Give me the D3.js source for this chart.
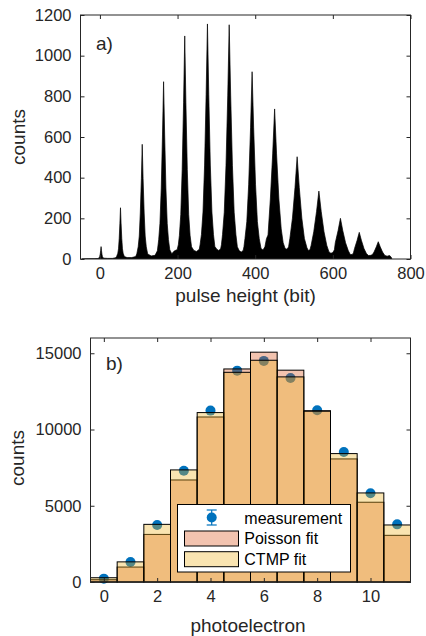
<!DOCTYPE html>
<html>
<head>
<meta charset="utf-8">
<script src="https://cdn.jsdelivr.net/npm/d3@7"></script>
<style>
body { margin: 0; background: #fff; }
svg { font-family: "Liberation Sans", Arial, sans-serif; }
</style>
</head>
<body>
<svg width="426" height="636"></svg>
<script>
// a) pulse height spectrum, outline: [pulse height (bit), counts]
var pulseOutline = [
  [-46,0],[-30,1],[-15,1],[-6,2],[-3,4],
  [-1.6,8],[-0.4,12],[0.8,24],[2,43],[3,61],[4,43],[5.2,24],[6.4,12],[7.6,8],
  [10,4],[20,3],[32,3],[40,6],[43,12],
  [46.1,28],[47.9,50],[49.7,101],[51.5,176],[53,252],[54.5,176],[56.3,101],[58.1,50],[59.9,28],
  [63,12],[70,7],[82,7],[92,12],[95,25],
  [98.6,60],[101.4,113],[104,226],[106.8,395],[109,564],[111.2,395],[114,226],[116.6,113],[119.4,60],
  [123,25],[132,15],[142,18],[148,40],
  [151.4,95],[154.6,174],[158,349],[161.2,610],[164,872],[166.8,610],[170,349],[173.4,174],[176.6,95],
  [180,45],[185,26],[192,40],[199,46],[202,70],
  [204.7,115],[208.3,219],[211.9,439],[215.5,768],[218.5,1097],[221.5,768],[225.1,439],[228.7,219],[232.3,115],
  [236,60],[242,42],[249,37],[256,48],[258,70],
  [261.5,120],[265.5,231],[269.6,462],[273.6,809],[277,1156],[280.4,809],[284.4,462],[288.5,231],[292.5,120],
  [296,62],[301,48],[306,42],[311,50],[313,70],
  [315.8,120],[320.3,230],[324.8,461],[329.3,806],[333,1152],[336.8,806],[341.3,461],[345.8,230],[350.3,120],
  [354,60],[359,40],[364,34],[369,42],[371,60],
  [373.6,100],[378.4,184],[383.2,368],[388,645],[392,921],[396,645],[400.8,368],[405.6,184],[410.4,100],
  [415,52],[420,44],[425,60],[429,100],[433,118],
  [439,295],[445,517],[450,738],[455,517],[461,295],[467,148],
  [472,80],[477,52],[482,48],[486,60],
  [489.3,101],[495.9,201],[502.5,352],[508,503],[513.5,352],[520.1,201],[526.7,101],[533.3,55],
  [537,42],[541,45],[544,67],
  [550.8,134],[558,234],[564,334],[570,234],[577.2,134],[584.4,67],
  [590,35],[595,28],[600,32],[604,45],
  [606.3,80],[613.5,140],[619.5,200],[625.5,140],[632.7,80],[639.9,40],
  [645,22],[650,22],[653,30],
  [655.9,52],[662.5,92],[668,131],[673.5,92],[680.1,52],[686.7,26],
  [692,17],[698,18],[702,22],
  [706,34],[712,60],[717,85],[722,60],[728,34],[734,17],
  [740,14],[746,17],[750,10],[752,0]
];
var pulseTicksX = [0, 200, 400, 600, 800];
var pulseTicksY = [0, 200, 400, 600, 800, 1000, 1200];

// b) photoelectron distribution
var photoelectrons = [0, 1, 2, 3, 4, 5, 6, 7, 8, 9, 10, 11];
var measured    = [220, 1310, 3740, 7300, 11240, 13860, 14500, 13380, 11260, 8530, 5820, 3780];
var measuredErr = [15, 36, 61, 85, 106, 118, 120, 116, 106, 92, 76, 61];
var poissonFit  = [150, 980, 3120, 6690, 10820, 13970, 15070, 13890, 11230, 8070, 5230, 3060];
var ctmpFit     = [280, 1320, 3780, 7350, 11110, 13750, 14540, 13450, 11200, 8420, 5840, 3740];
var peTicksX = [0, 2, 4, 6, 8, 10];
var peTicksY = [0, 5000, 10000, 15000];
var legendLabels = ["measurement", "Poisson fit", "CTMP fit"];

var axisColor = "#262626";
var blue = "#0072bd";
var poissonColor = "rgb(217,83,25)";
var ctmpColor = "rgb(237,177,32)";
var faceAlpha = 0.35;

var svg = d3.select("svg");

function frame(g, x, y, ticksX, ticksY) {
    var x0 = x.range()[0], x1 = x.range()[1], y0 = y.range()[0], y1 = y.range()[1];
    var fmt = d3.format("d");
    g.append("g").attr("transform", "translate(0," + y0 + ")")
        .call(d3.axisBottom(x).tickValues(ticksX).tickFormat(fmt).tickSizeInner(-4).tickSizeOuter(0).tickPadding(8));
    g.append("g").attr("transform", "translate(0," + y1 + ")")
        .call(d3.axisTop(x).tickValues(ticksX).tickSizeInner(-4).tickSizeOuter(0).tickFormat(""));
    g.append("g").attr("transform", "translate(" + x0 + ",0)")
        .call(d3.axisLeft(y).tickValues(ticksY).tickFormat(fmt).tickSizeInner(-4).tickSizeOuter(0).tickPadding(9));
    g.append("g").attr("transform", "translate(" + x1 + ",0)")
        .call(d3.axisRight(y).tickValues(ticksY).tickSizeInner(-4).tickSizeOuter(0).tickFormat(""));
    g.selectAll(".domain").remove();
    g.selectAll(".tick line").attr("stroke", axisColor);
    g.selectAll(".tick text").attr("fill", axisColor).attr("font-size", "16.5px")
        .attr("font-family", "Liberation Sans, Arial, sans-serif");
    g.append("rect")
        .attr("x", x0).attr("y", y1)
        .attr("width", x1 - x0).attr("height", y0 - y1)
        .attr("fill", "none").attr("stroke", axisColor).attr("stroke-width", 1);
}

// ---------- panel a ----------
var xA = d3.scaleLinear().domain([-50, 800]).range([80.5, 410.5]);
var yA = d3.scaleLinear().domain([0, 1200]).range([259, 15]);
var gA = svg.append("g");

gA.append("clipPath").attr("id", "clipA").append("rect")
    .attr("x", 80.5).attr("y", 15).attr("width", 330).attr("height", 244);

gA.append("path")
    .datum(pulseOutline)
    .attr("clip-path", "url(#clipA)")
    .attr("fill", "#000")
    .attr("stroke", "#000")
    .attr("stroke-width", 0.7)
    .attr("d", d3.area()
        .x(function(d) { return xA(d[0]); })
        .y0(yA(0))
        .y1(function(d) { return yA(d[1]); }));

frame(gA, xA, yA, pulseTicksX, pulseTicksY);

gA.append("text").attr("x", 96).attr("y", 50).attr("font-size", "19px").attr("fill", axisColor).text("a)");
gA.append("text").attr("x", 245.5).attr("y", 302).attr("text-anchor", "middle")
    .attr("font-size", "19px").attr("fill", axisColor).text("pulse height (bit)");
gA.append("text").attr("transform", "translate(25,137) rotate(-90)").attr("text-anchor", "middle")
    .attr("font-size", "19px").attr("fill", axisColor).text("counts");

// ---------- panel b ----------
var xB = d3.scaleLinear().domain([-0.5, 11.5]).range([90.5, 410.5]);
var yB = d3.scaleLinear().domain([0, 16000]).range([582, 338]);
var gB = svg.append("g");
var barW = xB(1) - xB(0);

// measurement first, translucent bars go over it
var meas = gB.append("g").selectAll("g")
    .data(photoelectrons)
    .enter().append("g");
meas.append("line")
    .attr("x1", function(d) { return xB(d); }).attr("x2", function(d) { return xB(d); })
    .attr("y1", function(d, i) { return yB(measured[i] - measuredErr[i]); })
    .attr("y2", function(d, i) { return yB(measured[i] + measuredErr[i]); })
    .attr("stroke", blue).attr("stroke-width", 1.2);
meas.append("circle")
    .attr("cx", function(d) { return xB(d); })
    .attr("cy", function(d, i) { return yB(measured[i]); })
    .attr("r", 5)
    .attr("fill", blue);

function bars(values, color) {
    gB.append("g").selectAll("rect")
        .data(photoelectrons)
        .enter().append("rect")
        .attr("x", function(d) { return xB(d - 0.5); })
        .attr("y", function(d, i) { return yB(values[i]); })
        .attr("width", barW)
        .attr("height", function(d, i) { return yB(0) - yB(values[i]); })
        .attr("fill", color).attr("fill-opacity", faceAlpha)
        .attr("stroke", "#000").attr("stroke-width", 1);
}
bars(poissonFit, poissonColor);
bars(ctmpFit, ctmpColor);

frame(gB, xB, yB, peTicksX, peTicksY);

gB.append("text").attr("x", 106).attr("y", 370).attr("font-size", "19px").attr("fill", axisColor).text("b)");
gB.append("text").attr("x", 248).attr("y", 632).attr("text-anchor", "middle")
    .attr("font-size", "19px").attr("fill", axisColor).text("photoelectron");
gB.append("text").attr("transform", "translate(24,458) rotate(-90)").attr("text-anchor", "middle")
    .attr("font-size", "19px").attr("fill", axisColor).text("counts");

// legend
var leg = gB.append("g").attr("transform", "translate(177.5,504.5)");
leg.append("rect").attr("width", 173).attr("height", 67.5)
    .attr("fill", "#fff").attr("stroke", "#000").attr("stroke-width", 1);
leg.append("line").attr("x1", 34.2).attr("x2", 34.2).attr("y1", 5.5).attr("y2", 20.5)
    .attr("stroke", blue).attr("stroke-width", 1.2);
leg.append("line").attr("x1", 29.2).attr("x2", 39.2).attr("y1", 5.5).attr("y2", 5.5)
    .attr("stroke", blue).attr("stroke-width", 1.2);
leg.append("line").attr("x1", 29.2).attr("x2", 39.2).attr("y1", 20.5).attr("y2", 20.5)
    .attr("stroke", blue).attr("stroke-width", 1.2);
leg.append("circle").attr("cx", 34.2).attr("cy", 13).attr("r", 5).attr("fill", blue);
[poissonColor, ctmpColor].forEach(function(c, i) {
    leg.append("rect").attr("x", 7).attr("y", 26.5 + i * 20.7).attr("width", 54).attr("height", 15)
        .attr("fill", c).attr("fill-opacity", faceAlpha).attr("stroke", "#000").attr("stroke-width", 1);
});
leg.selectAll("text.lab")
    .data(legendLabels)
    .enter().append("text")
    .attr("class", "lab")
    .attr("x", 66.8)
    .attr("y", function(d, i) { return 19 + i * 20.7; })
    .attr("font-size", "16px").attr("fill", "#000")
    .text(function(d) { return d; });
</script>
</body>
</html>
